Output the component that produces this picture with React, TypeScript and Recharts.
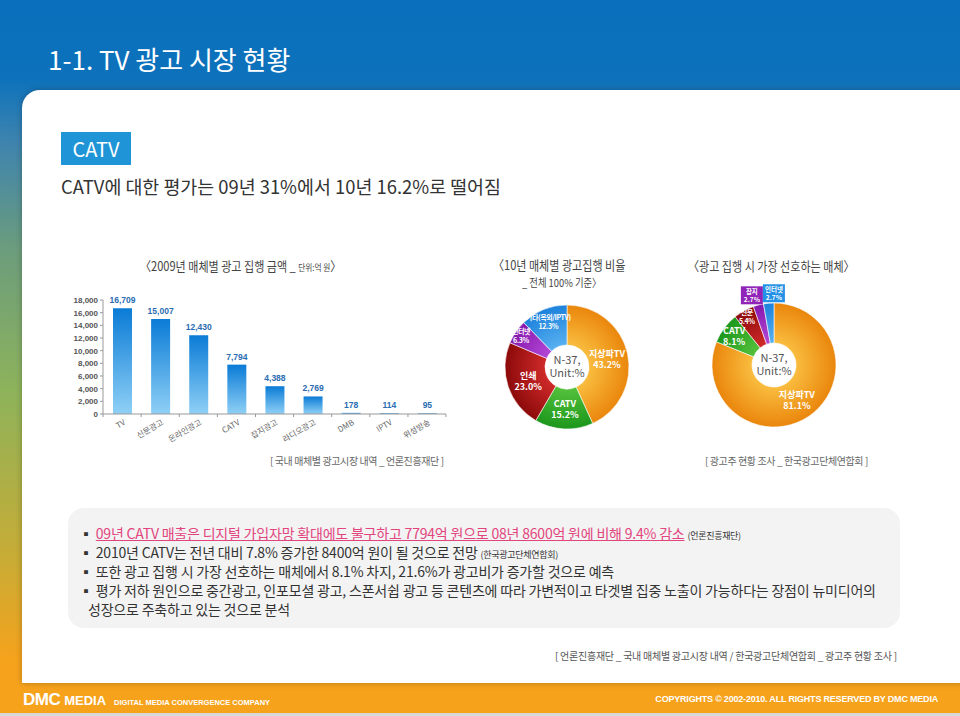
import { Bar, BarChart, Cell, LabelList, Pie, PieChart, XAxis, YAxis } from 'recharts'

// 2009 ad spend by medium (unit: 억 원)
const mediaNames = ['TV', '신문광고', '온라인광고', 'CATV', '잡지광고', '라디오광고', 'DMB', 'IPTV', '위성방송']
const spend2009 = [16709, 15007, 12430, 7794, 4388, 2769, 178, 114, 95]
const spendTicks = [0, 2000, 4000, 6000, 8000, 10000, 12000, 14000, 16000, 18000]

// 2010 share by medium (%)
const shareNames = ['지상파TV', 'CATV', '인쇄', '인터넷', '기타(옥외/IPTV)']
const shareValues = [43.2, 15.2, 23.0, 6.3, 12.3]

// preferred medium when placing ads (%)
const preferNames = ['지상파TV', 'CATV', '신문', '잡지', '인터넷']
const preferValues = [81.1, 8.1, 5.4, 2.7, 2.7]

const sliceKeys = ['orange', 'green', 'red', 'purple', 'blue']
const sliceStops: Record<string, [string, string]> = {
  orange: ['#f9bd3f', '#ea860c'],
  green: ['#55c13c', '#1c971c'],
  red: ['#d02a2a', '#8c0a0a'],
  purple: ['#b448d6', '#8619ad'],
  blue: ['#58b0f0', '#1d82dc'],
}
const boxColors: Record<string, string> = { purple: '#9023b8', blue: '#2391e6' }

const KR = "'Noto Sans CJK KR', 'Noto Sans', sans-serif"
const RAD = Math.PI / 180
const fmtComma = (v: number) => v.toLocaleString('en-US')

const barData = mediaNames.map((name, i) => ({ name, value: spend2009[i] }))
const shareData = shareNames.map((name, i) => ({ name, value: shareValues[i], key: sliceKeys[i] }))
const preferData = preferNames.map((name, i) => ({ name, value: preferValues[i], key: sliceKeys[i] }))

const HALF_BAND = 19

function MediaTick(props: any) {
  const { x, y, payload, index } = props
  return (
    <g transform={`translate(${x},${y})`}>
      <line x1={-HALF_BAND} x2={-HALF_BAND} y1={0} y2={3} stroke="#999" />
      {index === mediaNames.length - 1 && <line x1={HALF_BAND} x2={HALF_BAND} y1={0} y2={3} stroke="#999" />}
      <text
        transform="translate(4,10) rotate(-30)"
        textAnchor="end"
        fontSize={8}
        fill="#666"
        fontFamily={KR}
      >
        {payload.value}
      </text>
    </g>
  )
}

function GradDefs({ prefix, r }: { prefix: string; r: number }) {
  return (
    <defs>
      {sliceKeys.map((k) => (
        <radialGradient key={k} id={`${prefix}-${k}`} gradientUnits="userSpaceOnUse" cx={100} cy={90} r={r}>
          <stop offset="35%" stopColor={sliceStops[k][0]} />
          <stop offset="100%" stopColor={sliceStops[k][1]} />
        </radialGradient>
      ))}
    </defs>
  )
}

function makeLabel(boxed: boolean) {
  return (props: any) => {
    const { cx, cy, midAngle, outerRadius, name, value, index, payload } = props
    const key = payload?.key ?? sliceKeys[index]
    if (boxed && value < 3) {
      const r = outerRadius + 10
      const x = cx + r * Math.cos(-midAngle * RAD) + (index === 4 ? 6 : -4)
      const y = cy + r * Math.sin(-midAngle * RAD)
      return (
        <g>
          <rect x={x - 11} y={y - 9} width={22} height={18} fill={boxColors[key]} />
          <text textAnchor="middle" fill="#fff" fontSize={6.5} fontWeight={700} fontFamily={KR}>
            <tspan x={x} y={y - 1.5}>{name}</tspan>
            <tspan x={x} y={y + 6.5}>{value.toFixed(1)}%</tspan>
          </text>
        </g>
      )
    }
    const small = value < 7 || name.length > 6
    const r = value < 7 ? outerRadius * 0.9 : value < 13 ? outerRadius * 0.8 : outerRadius * 0.66
    const x = cx + r * Math.cos(-midAngle * RAD)
    const y = cy + r * Math.sin(-midAngle * RAD)
    const fs = small ? 7 : 9
    return (
      <text
        textAnchor="middle"
        fill="#fff"
        fontSize={fs}
        fontWeight={700}
        fontFamily={KR}
        letterSpacing={small ? -0.4 : 0}
      >
        <tspan x={x} y={y - 1}>{name}</tspan>
        <tspan x={x} y={y + fs + 1}>{value.toFixed(1)}%</tspan>
      </text>
    )
  }
}

function Donut({ data, prefix, boxed }: { data: any[]; prefix: string; boxed: boolean }) {
  return (
    <PieChart width={200} height={180} margin={{ top: 0, right: 0, bottom: 0, left: 0 }}>
      <GradDefs prefix={prefix} r={62} />
      <Pie
        data={data}
        dataKey="value"
        nameKey="name"
        cx={100}
        cy={90}
        innerRadius={22}
        outerRadius={62}
        startAngle={90}
        endAngle={-270}
        stroke="#ffffff"
        strokeWidth={0.6}
        labelLine={false}
        label={makeLabel(boxed)}
        isAnimationActive={false}
      >
        {data.map((d) => (
          <Cell key={d.name} fill={`url(#${prefix}-${d.key})`} />
        ))}
      </Pie>
    </PieChart>
  )
}

const abs = (left: number, top: number, extra: React.CSSProperties = {}): React.CSSProperties => ({
  position: 'absolute',
  left,
  top,
  ...extra,
})

function CenterNote({ left, top }: { left: number; top: number }) {
  return (
    <div
      style={abs(left - 30, top - 14, {
        width: 60,
        textAlign: 'center',
        fontSize: 11,
        lineHeight: '13px',
        color: '#555',
      })}
    >
      N-37,
      <br />
      Unit:%
    </div>
  )
}

const bullets = [
  '2010년 CATV는 전년 대비 7.8% 증가한 8400억 원이 될 것으로 전망',
  '또한 광고 집행 시 가장 선호하는 매체에서 8.1% 차지, 21.6%가 광고비가 증가할 것으로 예측',
  '평가 저하 원인으로 중간광고, 인포모셜 광고, 스폰서쉽 광고 등 콘텐츠에 따라 가변적이고 타겟별 집중 노출이 가능하다는 장점이 뉴미디어의',
]

const titleStyle: React.CSSProperties = {
  fontSize: 13,
  color: '#444',
  whiteSpace: 'nowrap',
  transform: 'scaleX(0.85)',
  transformOrigin: 'left top',
}

export default function App() {
  const lineStyle: React.CSSProperties = {
    fontSize: 14,
    height: 19,
    lineHeight: '19px',
    letterSpacing: -0.2,
    color: '#333',
    whiteSpace: 'nowrap',
  }
  const note: React.CSSProperties = { fontSize: 9, lineHeight: '10px', letterSpacing: -0.3 }
  return (
    <div
      style={{
        position: 'absolute',
        left: 0,
        top: 0,
        width: 960,
        height: 716,
        overflow: 'hidden',
        fontFamily: KR,
        background:
          'linear-gradient(180deg, #0a6fbc 0%, #0d72bb 11%, #3f84ae 20%, #6c9d7c 35%, #8eb35a 55%, #c8ac35 78%, #f5a21c 92%, #f7a21b 100%)',
      }}
    >
      {/* white content panel */}
      <div
        style={abs(22, 90, {
          width: 950,
          height: 593,
          background: '#fff',
          borderTopLeftRadius: 18,
          boxShadow: '0 0 6px rgba(0,0,0,0.25)',
        })}
      />
      <div style={abs(0, 713, { width: 960, height: 3, background: '#d8d8d8' })} />

      <div style={abs(48, 44, { fontSize: 26, lineHeight: '30px', color: '#fff', whiteSpace: 'nowrap' })}>
        1-1. TV 광고 시장 현황
      </div>

      <div
        style={abs(61, 132, {
          width: 70,
          height: 33,
          background: '#1f95d7',
          color: '#fff',
          fontSize: 20,
          lineHeight: '33px',
          textAlign: 'center',
        })}
      >
        CATV
      </div>
      <div style={abs(61, 174, { fontSize: 18.4, lineHeight: '24px', color: '#333', whiteSpace: 'nowrap' })}>
        CATV에 대한 평가는 09년 31%에서 10년 16.2%로 떨어짐
      </div>

      {/* chart titles */}
      <div style={abs(140, 256, titleStyle)}>
        〈2009년 매체별 광고 집행 금액 _ <span style={{ fontSize: 9 }}>단위:억 원</span>〉
      </div>
      <div style={abs(493, 256, { ...titleStyle, lineHeight: '18px' })}>〈10년 매체별 광고집행 비율</div>
      <div style={abs(522, 275, { ...titleStyle, fontSize: 11, lineHeight: '14px' })}>_ 전체 100% 기준〉</div>
      <div style={abs(688, 256, titleStyle)}>〈광고 집행 시 가장 선호하는 매체〉</div>

      {/* bar chart */}
      <div style={abs(60, 285)}>
        <BarChart width={400} height={170} data={barData} margin={{ top: 15, right: 14, bottom: 0, left: 0 }}>
          <defs>
            <linearGradient id="barBlue" x1="0" y1="0" x2="0" y2="1">
              <stop offset="0%" stopColor="#0a7bd6" />
              <stop offset="100%" stopColor="#8fd0f6" />
            </linearGradient>
          </defs>
          <XAxis
            dataKey="name"
            interval={0}
            height={41}
            tickSize={0}
            tickMargin={0}
            axisLine={{ stroke: '#999' }}
            tick={<MediaTick />}
          />
          <YAxis
            width={43}
            domain={[0, 18000]}
            ticks={spendTicks}
            interval={0}
            tickSize={3}
            tickFormatter={fmtComma}
            axisLine={{ stroke: '#999' }}
            tickLine={{ stroke: '#999' }}
            tick={{ fontSize: 8, fill: '#555', fontWeight: 700, fontFamily: 'Liberation Sans, Arial, sans-serif' }}
          />
          <Bar dataKey="value" barSize={19} fill="url(#barBlue)" isAnimationActive={false}>
            <LabelList
              dataKey="value"
              position="top"
              offset={5}
              formatter={(v: any) => fmtComma(Number(v))}
              style={{ fontSize: 8.5, fontWeight: 700, fill: '#2a6cb2', fontFamily: 'Liberation Sans, Arial, sans-serif' }}
            />
          </Bar>
        </BarChart>
      </div>

      {/* donuts */}
      <div style={abs(467, 277)}>
        <Donut data={shareData} prefix="share" boxed={false} />
      </div>
      <CenterNote left={567} top={367} />
      <div style={abs(674, 275)}>
        <Donut data={preferData} prefix="prefer" boxed={true} />
      </div>
      <CenterNote left={774} top={365} />

      {/* sources */}
      <div style={abs(270, 453, { fontSize: 10, color: '#666', whiteSpace: 'nowrap', letterSpacing: -0.4 })}>
        [ 국내 매체별 광고시장 내역 _ 언론진흥재단 ]
      </div>
      <div style={abs(705, 453, { fontSize: 10, color: '#666', whiteSpace: 'nowrap', letterSpacing: -0.4 })}>
        [ 광고주 현황 조사 _ 한국광고단체연합회 ]
      </div>

      {/* bullet box */}
      <div
        style={abs(68, 508, {
          width: 832,
          height: 120,
          background: '#f3f3f3',
          borderRadius: 16,
        })}
      />
      <div style={abs(79, 524)}>
        <div style={lineStyle}>
          ▪ <span style={{ color: '#e2447d', textDecoration: 'underline' }}>
            09년 CATV 매출은 디지털 가입자망 확대에도 불구하고 7794억 원으로 08년 8600억 원에 비해 9.4% 감소
          </span>{' '}
          <span style={note}>(언론진흥재단)</span>
        </div>
        <div style={lineStyle}>
          ▪ {bullets[0]} <span style={note}>(한국광고단체연합회)</span>
        </div>
        <div style={lineStyle}>▪ {bullets[1]}</div>
        <div style={lineStyle}>▪ {bullets[2]}</div>
        <div style={{ ...lineStyle, paddingLeft: 9 }}>성장으로 주축하고 있는 것으로 분석</div>
      </div>

      <div style={abs(555, 648, { fontSize: 10, color: '#555', whiteSpace: 'nowrap', letterSpacing: -0.25 })}>
        [ 언론진흥재단 _ 국내 매체별 광고시장 내역 / 한국광고단체연합회 _ 광고주 현황 조사 ]
      </div>

      {/* footer */}
      <div style={abs(23, 690, { color: '#fff', whiteSpace: 'nowrap', fontFamily: 'Liberation Sans, Arial, sans-serif' })}>
        <span style={{ fontSize: 17, fontWeight: 900, letterSpacing: -0.5 }}>DMC</span>
        <span style={{ fontSize: 13, fontWeight: 700, marginLeft: 4 }}>MEDIA</span>
        <span style={{ fontSize: 7.5, fontWeight: 700, marginLeft: 8 }}>DIGITAL MEDIA CONVERGENCE COMPANY</span>
      </div>
      <div
        style={abs(655, 694, {
          width: 283,
          textAlign: 'right',
          color: '#fff',
          fontSize: 9,
          fontWeight: 700,
          whiteSpace: 'nowrap',
          letterSpacing: -0.2,
          fontFamily: 'Liberation Sans Narrow, Liberation Sans, Arial, sans-serif',
        })}
      >
        COPYRIGHTS © 2002-2010. ALL RIGHTS RESERVED BY DMC MEDIA
      </div>
    </div>
  )
}
